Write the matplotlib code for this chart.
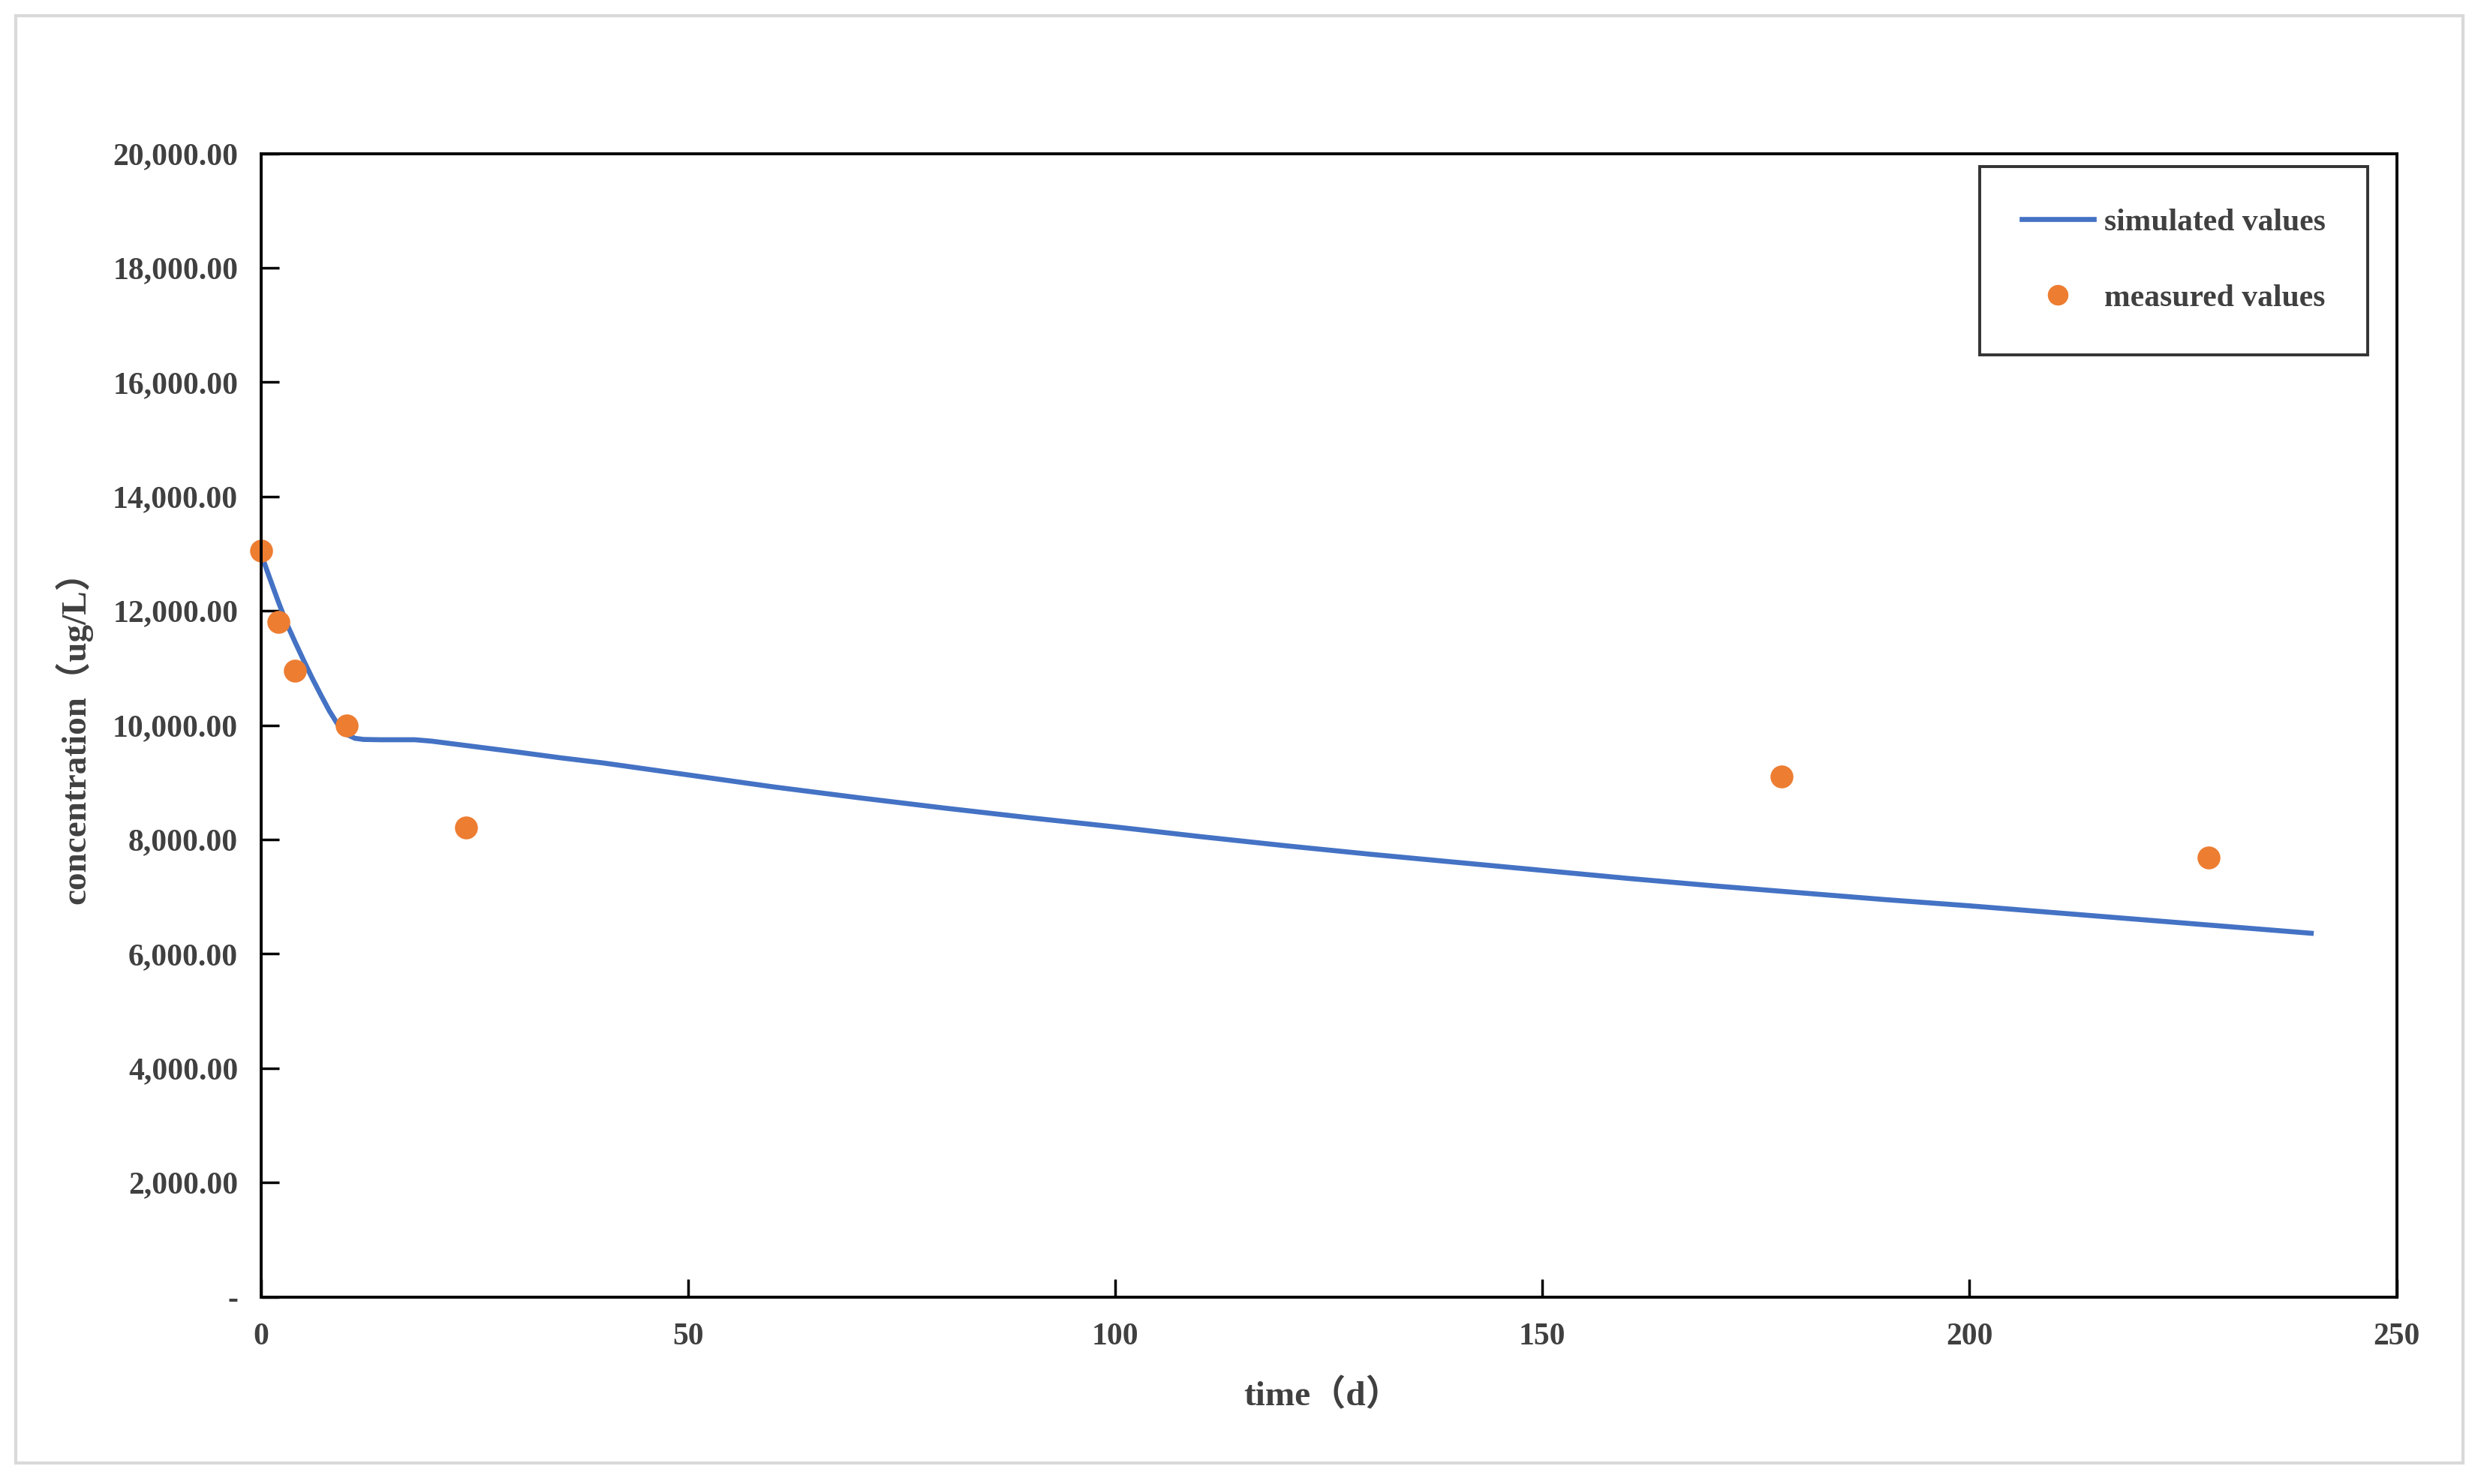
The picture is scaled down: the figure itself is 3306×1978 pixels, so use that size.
import matplotlib
matplotlib.use("Agg")
import matplotlib.pyplot as plt
from matplotlib.patches import Rectangle
from matplotlib.ticker import FuncFormatter

plt.rcParams['font.family'] = ['Liberation Serif', 'Noto Sans CJK SC']
plt.rcParams['font.weight'] = 'bold'

# simulated curve
sim_days = [0, 1, 2, 3, 4, 5, 6, 7, 8, 9, 10, 11, 12, 14, 16, 18, 20, 25, 30,
            35, 40, 50, 60, 70, 80, 90, 100, 110, 120, 130, 140, 150, 160,
            170, 180, 190, 200, 210, 220, 230, 240]
sim_conc = [13000, 12580, 12170, 11780, 11450, 11130, 10820, 10530, 10250,
            10010, 9840, 9770, 9750, 9745, 9745, 9745, 9720, 9625, 9530,
            9430, 9340, 9130, 8920, 8730, 8550, 8380, 8220, 8050, 7890,
            7740, 7600, 7460, 7320, 7190, 7070, 6950, 6840, 6720, 6600,
            6480, 6360]

# measured points
meas_days = [0, 2, 4, 10, 24, 178, 228]
meas_conc = [13050, 11810, 10950, 9990, 8210, 9100, 7680]

x_ticks = [0, 50, 100, 150, 200, 250]
y_ticks = [0, 2000, 4000, 6000, 8000, 10000, 12000, 14000, 16000, 18000, 20000]

text_color = '#404040'

fig = plt.figure(figsize=(33.06, 19.78), dpi=100)
fig.patches.append(Rectangle((0.0064, 0.0142), 0.9864, 0.9752, transform=fig.transFigure,
                             fill=False, edgecolor='#d9d9d9', linewidth=3))

ax = fig.add_axes([0.1052, 0.1261, 0.8608, 0.7705])
ax.plot(sim_days, sim_conc, color='#4472C4', linewidth=4.8, label='simulated values')
ax.plot(meas_days, meas_conc, 'o', color='#ED7D31', markersize=22, markeredgecolor='none',
        label='measured values', clip_on=False)

ax.set_xlim(0, 250)
ax.set_ylim(0, 20000)
ax.set_xticks(x_ticks)
ax.set_yticks(y_ticks)
ax.yaxis.set_major_formatter(FuncFormatter(lambda v, p: '-' if v == 0 else f'{v:,.2f}'))

for s in ax.spines.values():
    s.set_linewidth(2.8)
    s.set_color('black')

ax.tick_params(axis='both', direction='in', length=17, width=2.5, labelsize=30,
               labelcolor=text_color)
ax.tick_params(axis='y', pad=22)
ax.tick_params(axis='x', pad=25)

ax.set_ylabel('concentration（ug/L）', fontsize=34, color=text_color, fontweight='bold')
ax.set_xlabel('time（d）', fontsize=34, color=text_color, fontweight='bold')
ax.yaxis.set_label_coords(-0.079, 0.497)
ax.xaxis.set_label_coords(0.497, -0.072)

leg = ax.legend(loc='upper right', bbox_to_anchor=(0.9866, 0.9888), borderaxespad=0,
                fontsize=30, frameon=True, fancybox=False, edgecolor='black',
                handlelength=2.3, handletextpad=0.35, labelspacing=1.5, borderpad=1.35,
                markerscale=0.9)
leg.get_frame().set_linewidth(2.8)
for t in leg.get_texts():
    t.set_color(text_color)

fig.savefig('out.png', dpi=100)
